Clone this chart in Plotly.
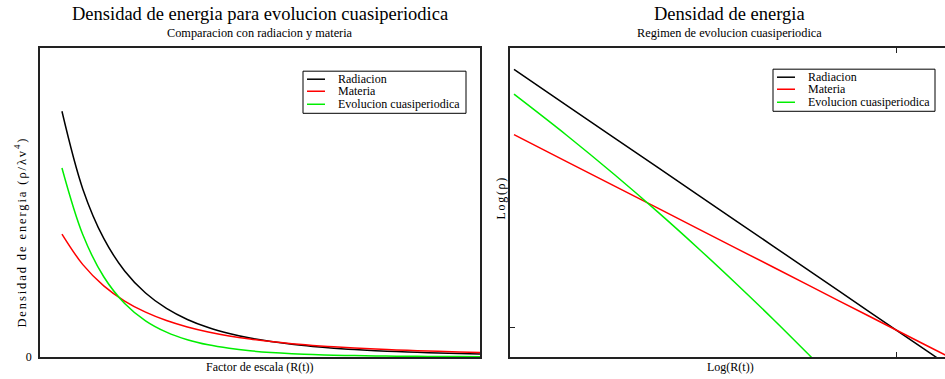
import plotly.graph_objects as go

# Scale factor a = R(t)
scale_factor = [1.0, 1.1, 1.2, 1.3, 1.4, 1.5, 1.6, 1.7, 1.8, 1.9, 2.0,
                2.1, 2.2, 2.3, 2.4, 2.5, 2.6, 2.7, 2.8, 2.9, 3.0]
# Energy densities
radiacion = [1.0, 0.683, 0.4823, 0.3501, 0.2603, 0.1975, 0.1526, 0.1197, 0.0953, 0.0767, 0.0625,
             0.0514, 0.0427, 0.0357, 0.0301, 0.0256, 0.0219, 0.0188, 0.0163, 0.0141, 0.0123]
materia = [0.5, 0.3757, 0.2894, 0.2276, 0.1822, 0.1481, 0.1221, 0.1018, 0.0857, 0.0729, 0.0625,
           0.054, 0.047, 0.0411, 0.0362, 0.032, 0.0284, 0.0254, 0.0228, 0.0205, 0.0185]
cuasiperiodica = [0.769, 0.497, 0.3264, 0.2177, 0.1472, 0.1009, 0.0701, 0.0492, 0.035, 0.0251, 0.01816,
                  0.01327, 0.00978, 0.00727, 0.00544, 0.0041, 0.00311, 0.00238, 0.00183, 0.00141, 0.0011]

series_names = ["Radiacion", "Materia", "Evolucion cuasiperiodica"]
series_colors = ["#000000", "#ff0000", "#00ee00"]
series_values = [radiacion, materia, cuasiperiodica]

FONT = "Liberation Serif"
W, H = 945, 379
H_FIG = 387  # compensates the vertical squeeze seen in the capture

def px_x(p):
    return p / W

def px_y(p):
    return 1 - p / H

fig = go.Figure()

for name, col, vals in zip(series_names, series_colors, series_values):
    fig.add_trace(go.Scatter(x=scale_factor, y=vals, mode="lines", name=name,
                             line=dict(color=col, width=1.5, shape="spline"),
                             xaxis="x", yaxis="y", showlegend=False))
for name, col, vals in zip(series_names, series_colors, series_values):
    fig.add_trace(go.Scatter(x=scale_factor, y=vals, mode="lines", name=name,
                             line=dict(color=col, width=1.5, shape="spline"),
                             xaxis="x2", yaxis="y2", showlegend=False))

frame = dict(showline=True, linecolor="#222222", linewidth=1.5, showgrid=False, zeroline=False)

fig.update_layout(
    width=W, height=H_FIG, autosize=False,
    margin=dict(l=0, r=0, t=0, b=0),
    paper_bgcolor="white", plot_bgcolor="white",
    font=dict(family=FONT, color="black", size=12),
    showlegend=False,
    xaxis=dict(domain=[px_x(40), px_x(480)], range=[0.895, 3.0], mirror=True,
               showticklabels=False, ticks="", anchor="y", **frame),
    yaxis=dict(domain=[px_y(356), px_y(48)], range=[0, 1.257], mirror=True,
               tickvals=[0], ticktext=["0"], ticks="", ticklabelstandoff=4,
               tickfont=dict(size=12, family=FONT), anchor="x", **frame),
    xaxis2=dict(domain=[px_x(510), 1.0], type="log", range=[-0.00315, 0.3391], mirror="ticks",
                tickvals=[2.0], showticklabels=False, ticks="inside", ticklen=5, tickcolor="#222222",
                anchor="y2", **frame),
    yaxis2=dict(domain=[px_y(356), px_y(48)], type="log", range=[-1.3273, 0.0986], mirror=False,
                tickvals=[0.0641], showticklabels=False, ticks="inside", ticklen=5, tickcolor="#222222",
                anchor="x2", **frame),
)

# Manual legends (compact, as in the reference)
legend_boxes = [(303, 71, 466, 113, [79, 91, 104]), (773, 69, 935, 111, [77, 89, 102])]
for (bx0, by0, bx1, by1, rows) in legend_boxes:
    fig.add_shape(type="rect", xref="paper", yref="paper",
                  x0=px_x(bx0), x1=px_x(bx1), y0=px_y(by1), y1=px_y(by0),
                  line=dict(color="black", width=1), fillcolor="white", layer="above")
    for name, col, ry in zip(series_names, series_colors, rows):
        fig.add_shape(type="line", xref="paper", yref="paper",
                      x0=px_x(bx0 + 4), x1=px_x(bx0 + 22), y0=px_y(ry), y1=px_y(ry),
                      line=dict(color=col, width=1.5), layer="above")
        fig.add_annotation(text=name, x=px_x(bx0 + 33), y=px_y(ry), xref="paper", yref="paper",
                           xanchor="left", yanchor="middle", showarrow=False,
                           font=dict(size=12, family=FONT, color="black"))

annots = [
    dict(text="Densidad de energia para evolucion cuasiperiodica", x=px_x(260), y=px_y(14), size=18.5),
    dict(text="Comparacion con radiacion y materia", x=px_x(260), y=px_y(33), size=12.3),
    dict(text="Densidad de energia", x=px_x(729), y=px_y(14), size=18.5),
    dict(text="Regimen de evolucion cuasiperiodica", x=px_x(729), y=px_y(33), size=12.3),
    dict(text="Factor de escala (R(t))", x=px_x(260), y=px_y(366), size=12),
    dict(text="Log(R(t))", x=px_x(730), y=px_y(366), size=12),
]
for a in annots:
    fig.add_annotation(text=a["text"], x=a["x"], y=a["y"], xref="paper", yref="paper",
                       xanchor="center", yanchor="middle", showarrow=False,
                       font=dict(size=a["size"], family=FONT, color="black"))

fig.add_annotation(text='<span style="letter-spacing:1.9px">Densidad de energia (ρ/λv<sup>4</sup>)</span>',
                   x=px_x(20), y=px_y(232),
                   xref="paper", yref="paper", xanchor="center", yanchor="middle",
                   textangle=-90, showarrow=False, font=dict(size=12.5, family=FONT, color="black"))
fig.add_annotation(text='<span style="letter-spacing:1.7px">Log(ρ)</span>', x=px_x(501), y=px_y(197),
                   xref="paper", yref="paper", xanchor="center", yanchor="middle",
                   textangle=-90, showarrow=False, font=dict(size=12, family=FONT, color="black"))

post = ("var d=document.documentElement,b=document.body;"
        "d.style.margin='0';d.style.padding='0';d.style.overflow='hidden';"
        "b.style.margin='0';b.style.padding='0';b.style.overflow='hidden';")
fig.write_html("out.html", post_script=post, config={"displayModeBar": False})
